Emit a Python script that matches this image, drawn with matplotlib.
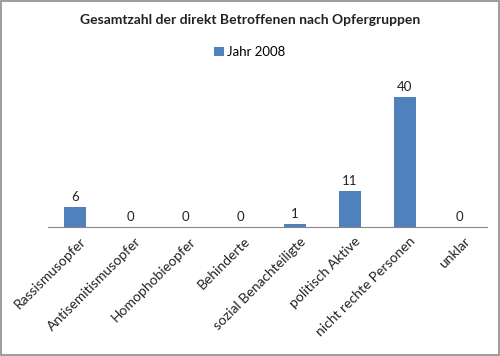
import matplotlib
matplotlib.use("Agg")
import matplotlib.pyplot as plt
from matplotlib.patches import Rectangle
from matplotlib.transforms import ScaledTranslation

plt.rcParams['font.family'] = ['Lato', 'DejaVu Sans']

# data
categories = ["Rassismusopfer", "Antisemitismusopfer", "Homophobieopfer", "Behinderte",
              "sozial Benachteiligte", "politisch Aktive", "nicht rechte Personen", "unklar"]
values = [6, 0, 0, 0, 1, 11, 40, 0]
series_name = "Jahr 2008"
title = "Gesamtzahl der direkt Betroffenen nach Opfergruppen"

bar_color = "#4f81bd"

fig = plt.figure(figsize=(5.0, 3.56), dpi=100)
ax = fig.add_axes([0.096, 0.3624, 0.878, 0.3836])

x = list(range(len(categories)))
bars = ax.bar(x, values, width=0.4, color=bar_color, label=series_name)
for xi, v in zip(x, values):
    ax.text(xi, v + 1.3, str(v), ha='center', va='bottom', fontsize=9.5, color='#222222')

ax.set_xlim(-0.5, len(categories) - 0.5)
ax.set_ylim(0, 42)
ax.set_yticks([])
for s in ['top', 'right', 'left']:
    ax.spines[s].set_visible(False)
ax.spines['bottom'].set_color('#868686')
ax.set_xticks(x)
ax.set_xticklabels(categories, rotation=45, ha='right', rotation_mode='anchor',
                   fontsize=10, color='#222222')
ax.tick_params(axis='x', length=0, pad=6)
# nudge labels a little to the right, like the original
offset = ScaledTranslation(3 / 72, 0, fig.dpi_scale_trans)
for lab in ax.get_xticklabels():
    lab.set_transform(lab.get_transform() + offset)

fig.text(0.5, 0.944, title, ha='center', va='center', fontsize=10,
         fontweight='bold', color='#222222')
fig.legend(handles=[bars], labels=[series_name], loc='center', bbox_to_anchor=(0.5, 0.853),
           frameon=False, fontsize=9.5, handlelength=0.7, handleheight=0.7,
           handletextpad=0.3)

# grey frame around the picture
fig.patches.append(Rectangle((0.002, 0.003), 0.995, 0.994, transform=fig.transFigure,
                             fill=False, edgecolor='#8c8c8c', linewidth=1.2))

fig.savefig("out.png", dpi=100)
